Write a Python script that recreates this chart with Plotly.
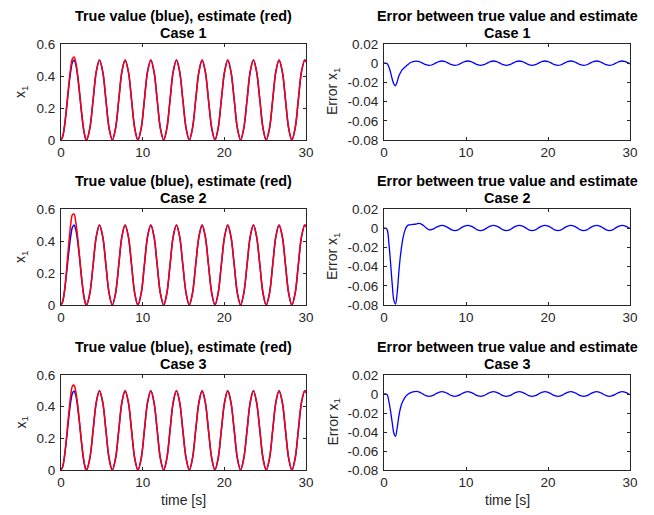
import plotly.graph_objects as go

# ---------------- data ----------------
time_s = [0, 0.2, 0.4, 0.6, 0.8, 1.0, 1.2, 1.4, 1.6, 1.8, 2.0, 2.2, 2.4, 2.6, 2.8, 3.0,
          3.14, 3.53, 3.93, 4.32, 4.71, 5.11, 5.50, 5.89,
          6.28, 6.68, 7.07, 7.46, 7.85, 8.25, 8.64, 9.03,
          9.42, 9.82, 10.21, 10.60, 11.00, 11.39, 11.78, 12.17,
          12.57, 12.96, 13.35, 13.74, 14.14, 14.53, 14.92, 15.32,
          15.71, 16.10, 16.49, 16.89, 17.28, 17.67, 18.06, 18.46,
          18.85, 19.24, 19.63, 20.03, 20.42, 20.81, 21.21, 21.60,
          21.99, 22.38, 22.78, 23.17, 23.56, 23.95, 24.35, 24.74,
          25.13, 25.53, 25.92, 26.31, 26.70, 27.10, 27.49, 27.88,
          28.27, 28.67, 29.06, 29.45, 29.85, 30.0]

x1_true = [0, 0.0197, 0.0758, 0.1594, 0.2573, 0.354, 0.4343, 0.4855, 0.4996, 0.4742, 0.4134, 0.3268, 0.2281, 0.1329, 0.0561, 0.01,
           0, 0.0732, 0.25, 0.4268, 0.5, 0.4268, 0.25, 0.0732,
           0, 0.0732, 0.25, 0.4268, 0.5, 0.4268, 0.25, 0.0732,
           0, 0.0732, 0.25, 0.4268, 0.5, 0.4268, 0.25, 0.0732,
           0, 0.0732, 0.25, 0.4268, 0.5, 0.4268, 0.25, 0.0732,
           0, 0.0732, 0.25, 0.4268, 0.5, 0.4268, 0.25, 0.0732,
           0, 0.0732, 0.25, 0.4268, 0.5, 0.4268, 0.25, 0.0732,
           0, 0.0732, 0.25, 0.4268, 0.5, 0.4268, 0.25, 0.0732,
           0, 0.0732, 0.25, 0.4268, 0.5, 0.4268, 0.25, 0.0732,
           0, 0.0732, 0.25, 0.4268, 0.5, 0.488]

# estimate: first cycle read separately, afterwards it coincides with the true value
est_case1_start = [0, 0.0197, 0.0763, 0.1634, 0.2668, 0.3705, 0.4558, 0.509, 0.5191, 0.4877, 0.4234, 0.3338, 0.2334, 0.1367, 0.0583, 0.0108]
est_case2_start = [0, 0.0197, 0.0778, 0.1754, 0.2933, 0.412, 0.5093, 0.5645, 0.5676, 0.5212, 0.4424, 0.3428, 0.2351, 0.1339, 0.0541, 0.0065]
est_case3_start = [0, 0.0197, 0.0768, 0.1674, 0.2753, 0.384, 0.4753, 0.53, 0.5356, 0.4982, 0.4284, 0.3363, 0.2341, 0.1359, 0.0571, 0.0097]

err_case1 = [0, 0, -0.0005, -0.004, -0.0095, -0.0165, -0.0215, -0.0235, -0.0195, -0.0135, -0.010, -0.007, -0.0053, -0.0038, -0.0022, -0.0008,
             0.0002, 0.0017, 0.0022, 0.0016, 0, -0.0016, -0.0023, -0.0016,
             0, 0.0016, 0.0023, 0.0016, 0, -0.0016, -0.0023, -0.0016,
             0, 0.0016, 0.0023, 0.0016, 0, -0.0016, -0.0023, -0.0016,
             0, 0.0016, 0.0023, 0.0016, 0, -0.0016, -0.0023, -0.0016,
             0, 0.0016, 0.0023, 0.0016, 0, -0.0016, -0.0023, -0.0016,
             0, 0.0016, 0.0023, 0.0016, 0, -0.0016, -0.0023, -0.0016,
             0, 0.0016, 0.0023, 0.0016, 0, -0.0016, -0.0023, -0.0016,
             0, 0.0016, 0.0023, 0.0016, 0, -0.0016, -0.0023, -0.0016,
             0, 0.0016, 0.0023, 0.0016, 0, -0.0007]

err_case2 = [0, 0, -0.002, -0.016, -0.036, -0.058, -0.075, -0.079, -0.068, -0.047, -0.029, -0.016, -0.007, -0.001, 0.002, 0.0035,
             0.0035, 0.004, 0.0043, 0.005, 0.0035, 0.0005, -0.0017, -0.0012,
             0.0005, 0.0022, 0.003, 0.0022, 0.0004, -0.0017, -0.0025, -0.0017,
             0.0004, 0.0021, 0.0029, 0.0021, 0.0004, -0.0017, -0.0025, -0.0017,
             0.0004, 0.0021, 0.0029, 0.0021, 0.0004, -0.0017, -0.0025, -0.0017,
             0.0004, 0.0021, 0.0029, 0.0021, 0.0004, -0.0017, -0.0025, -0.0017,
             0.0004, 0.0021, 0.0029, 0.0021, 0.0004, -0.0017, -0.0025, -0.0017,
             0.0004, 0.0021, 0.0029, 0.0021, 0.0004, -0.0017, -0.0025, -0.0017,
             0.0004, 0.0021, 0.0029, 0.0021, 0.0004, -0.0017, -0.0025, -0.0017,
             0.0004, 0.0021, 0.0029, 0.0021, 0.0004, -0.0004]

err_case3 = [0, 0, -0.001, -0.008, -0.018, -0.030, -0.041, -0.0445, -0.036, -0.024, -0.015, -0.0095, -0.006, -0.003, -0.001, 0.0003,
             0.001, 0.0022, 0.0027, 0.002, 0.0002, -0.0017, -0.0024, -0.0017,
             0, 0.0017, 0.0025, 0.0017, 0, -0.0017, -0.0025, -0.0017,
             0, 0.0017, 0.0025, 0.0017, 0, -0.0017, -0.0025, -0.0017,
             0, 0.0017, 0.0025, 0.0017, 0, -0.0017, -0.0025, -0.0017,
             0, 0.0017, 0.0025, 0.0017, 0, -0.0017, -0.0025, -0.0017,
             0, 0.0017, 0.0025, 0.0017, 0, -0.0017, -0.0025, -0.0017,
             0, 0.0017, 0.0025, 0.0017, 0, -0.0017, -0.0025, -0.0017,
             0, 0.0017, 0.0025, 0.0017, 0, -0.0017, -0.0025, -0.0017,
             0, 0.0017, 0.0025, 0.0017, 0, -0.0008]

case_names = ["Case 1", "Case 2", "Case 3"]
left_title = "True value (blue), estimate (red)"
right_title = "Error between true value and estimate"
x_ticks = [0, 10, 20, 30]
x_ticklabels = ["0", "10", "20", "30"]
left_yticks = [0, 0.2, 0.4, 0.6]
left_yticklabels = ["0", "0.2", "0.4", "0.6"]
right_yticks = [-0.08, -0.06, -0.04, -0.02, 0, 0.02]
right_yticklabels = ["-0.08", "-0.06", "-0.04", "-0.02", "0", "0.02"]

est_cases = [est_case1_start + x1_true[len(est_case1_start):],
             est_case2_start + x1_true[len(est_case2_start):],
             est_case3_start + x1_true[len(est_case3_start):]]
err_cases = [err_case1, err_case2, err_case3]

# ---------------- layout geometry ----------------
# the page body has an 8px margin, so the figure is drawn 8px in from the window corner
OFF = 8
W, H = 654 - OFF, 515 - OFF
FONT = "Liberation Sans, Arial, Helvetica, sans-serif"
AX = "#262626"
left_px = (61, 306)
right_px = (384, 630)
rows_px = [(44, 140), (209, 305), (375, 470)]


def px_x(p):
    return (p - OFF) / W


def px_y(p):
    return 1 - (p - OFF) / H


fig = go.Figure()
layout = dict(
    template="none",
    width=W, height=H,
    margin=dict(l=0, r=0, t=0, b=0, pad=0, autoexpand=False),
    paper_bgcolor="white", plot_bgcolor="white",
    showlegend=False,
    font=dict(family=FONT, size=13.5, color=AX),
)
annotations = []

for r in range(3):
    top, bot = rows_px[r]
    for c in range(2):
        idx = r * 2 + c + 1
        xa = "x" if idx == 1 else f"x{idx}"
        ya = "y" if idx == 1 else f"y{idx}"
        xl, xr = left_px if c == 0 else right_px
        common = dict(showline=True, linecolor=AX, linewidth=1, mirror="ticks",
                      ticks="inside", ticklen=3, tickcolor=AX, tickwidth=1,
                      showgrid=False, zeroline=False, automargin=False,
                      tickfont=dict(family=FONT, size=13.5, color=AX))
        layout["xaxis" if idx == 1 else f"xaxis{idx}"] = dict(
            domain=[px_x(xl), px_x(xr)], anchor=ya, range=[0, 30],
            tickvals=x_ticks, ticktext=x_ticklabels, **common)
        if c == 0:
            layout["yaxis" if idx == 1 else f"yaxis{idx}"] = dict(
                domain=[px_y(bot), px_y(top)], anchor=xa, range=[0, 0.6],
                tickvals=left_yticks, ticktext=left_yticklabels,
                ticklabelstandoff=2, **common)
            fig.add_trace(go.Scatter(x=time_s, y=x1_true, mode="lines",
                                     line=dict(color="#0000ff", width=1.5, shape="spline"),
                                     xaxis=xa, yaxis=ya))
            fig.add_trace(go.Scatter(x=time_s, y=est_cases[r], mode="lines",
                                     line=dict(color="#ff0000", width=1.5, shape="spline"),
                                     xaxis=xa, yaxis=ya))
            t1 = left_title
            ylab = "x<sub>1</sub>"
            ylab_x = 21
        else:
            layout[f"yaxis{idx}"] = dict(
                domain=[px_y(bot), px_y(top)], anchor=xa, range=[-0.08, 0.02],
                tickvals=right_yticks, ticktext=right_yticklabels,
                ticklabelstandoff=2, **common)
            fig.add_trace(go.Scatter(x=time_s, y=err_cases[r], mode="lines",
                                     line=dict(color="#0000ff", width=1.3, shape="spline"),
                                     xaxis=xa, yaxis=ya))
            t1 = right_title
            ylab = "Error x<sub>1</sub>"
            ylab_x = 333
        cx = px_x((xl + xr) / 2)
        title_font = dict(family=FONT, size=14.4, color="black", weight="bold")
        annotations.append(dict(text=t1, x=cx, y=px_y(top - 28), xref="paper", yref="paper",
                                xanchor="center", yanchor="middle", showarrow=False,
                                font=title_font))
        annotations.append(dict(text=case_names[r], x=cx, y=px_y(top - 11), xref="paper", yref="paper",
                                xanchor="center", yanchor="middle", showarrow=False,
                                font=title_font))
        annotations.append(dict(text=ylab, x=px_x(ylab_x), y=px_y((top + bot) / 2), xref="paper", yref="paper",
                                xanchor="center", yanchor="middle", showarrow=False, textangle=-90,
                                font=dict(family=FONT, size=14, color=AX)))
        if r == 2:
            annotations.append(dict(text="time [s]", x=cx, y=px_y(500), xref="paper", yref="paper",
                                    xanchor="center", yanchor="middle", showarrow=False,
                                    font=dict(family=FONT, size=14, color=AX)))

layout["annotations"] = annotations
fig.update_layout(**layout)
fig.write_html("out.html")
